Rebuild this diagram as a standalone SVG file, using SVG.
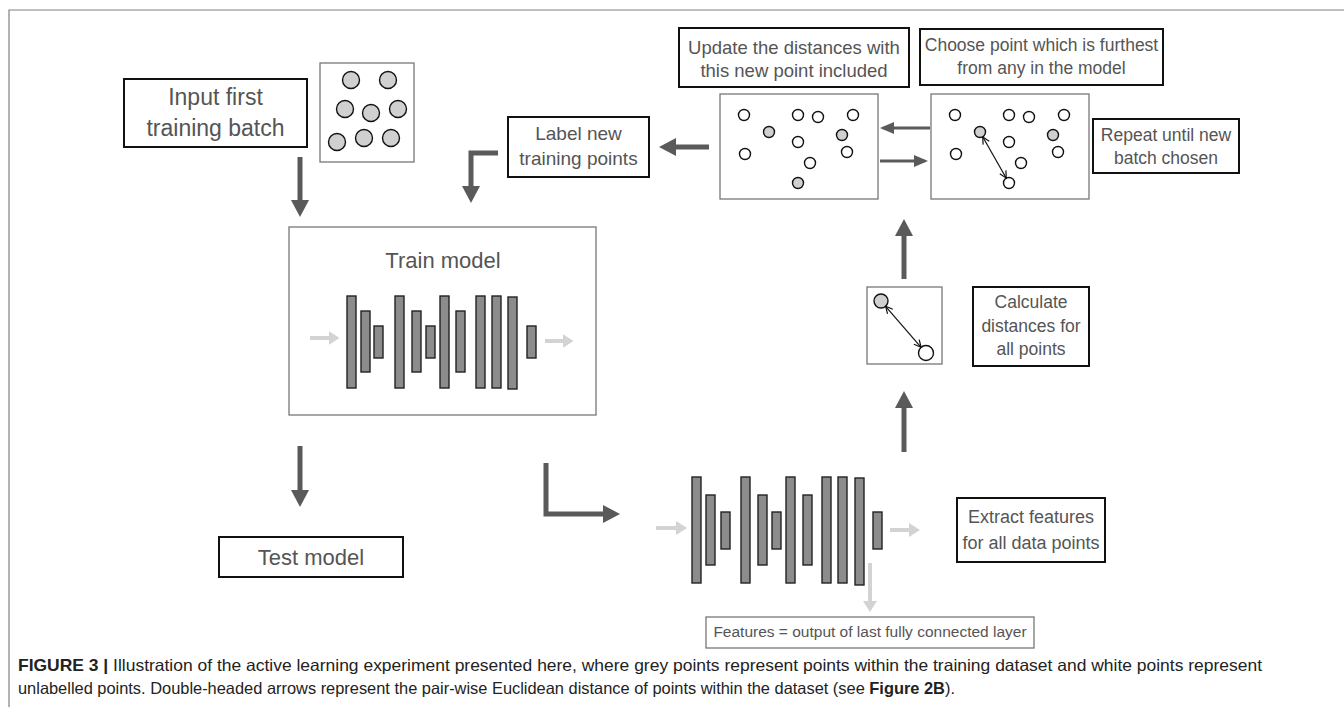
<svg xmlns="http://www.w3.org/2000/svg" width="1344" height="707" viewBox="0 0 1344 707">
<style>
.lbl{font-family:"Liberation Sans",Arial,sans-serif;fill:#555;text-anchor:middle}
.tb{fill:#fff;stroke:#111;stroke-width:2}
.pb{fill:#fff;stroke:#777;stroke-width:1.3}
.bar{fill:#8c8c8c;stroke:#222;stroke-width:1.4}
.dg{fill:#d0d0d0;stroke:#111;stroke-width:1.4}
.dw{fill:#fff;stroke:#111;stroke-width:1.4}
.arr{fill:none;stroke:#5a5a5a;stroke-width:5}
.arrs{fill:none;stroke:#5a5a5a;stroke-width:3}
.arrl{fill:none;stroke:#d3d3d3;stroke-width:4}
.dbl{fill:none;stroke:#111;stroke-width:1.2}
.cap{font-family:"Liberation Sans",Arial,sans-serif;font-size:16.5px;fill:#222}
</style>
<defs>
<marker id="ah" markerUnits="userSpaceOnUse" markerWidth="17" markerHeight="18" viewBox="0 0 17 18" refX="12" refY="9" orient="auto"><path d="M0,0 L17,9 L0,18 z" fill="#5a5a5a"/></marker>
<marker id="ahs" markerUnits="userSpaceOnUse" markerWidth="14" markerHeight="12" viewBox="0 0 14 12" refX="10.5" refY="6" orient="auto"><path d="M0,0 L14,6 L0,12 z" fill="#5a5a5a"/></marker>
<marker id="ahl" markerUnits="userSpaceOnUse" markerWidth="11" markerHeight="14" viewBox="0 0 11 14" refX="8" refY="7" orient="auto"><path d="M0,0 L11,7 L0,14 z" fill="#d3d3d3"/></marker>
<marker id="v" markerUnits="userSpaceOnUse" markerWidth="9" markerHeight="9" viewBox="0 0 9 9" refX="8" refY="4.5" orient="auto-start-reverse"><path d="M1,1 L8,4.5 L1,8" fill="none" stroke="#111" stroke-width="1.2"/></marker>
</defs>

<g id="frame"><path d="M9,707 V10 H1344" fill="none" stroke="#808080" stroke-width="1.2"/></g>

<g id="input-box">
<rect class="tb" x="124" y="79" width="183" height="68"/>
<text class="lbl" font-size="23" x="215.5" y="105">Input first</text>
<text class="lbl" font-size="23" x="215.5" y="136">training batch</text>
</g>

<g id="input-dots">
<rect class="pb" x="320" y="63" width="94" height="99"/>
<circle class="dg" cx="351" cy="80" r="8.5"/><circle class="dg" cx="388" cy="80" r="8.5"/>
<circle class="dg" cx="345" cy="109" r="8.5"/><circle class="dg" cx="371" cy="113" r="8.5"/><circle class="dg" cx="398" cy="109" r="8.5"/>
<circle class="dg" cx="337" cy="142" r="8.5"/><circle class="dg" cx="364" cy="138" r="8.5"/><circle class="dg" cx="391" cy="138" r="8.5"/>
</g>

<g id="train-model">
<rect class="pb" x="289" y="227" width="307" height="188"/>
<text class="lbl" font-size="22" x="443" y="268">Train model</text>
<rect class="bar" x="347" y="296" width="9" height="92"/>
<rect class="bar" x="361" y="311" width="9" height="61"/>
<rect class="bar" x="374" y="326" width="9" height="32"/>
<rect class="bar" x="395" y="296" width="9" height="92"/>
<rect class="bar" x="412" y="311" width="9" height="61"/>
<rect class="bar" x="426" y="326" width="9" height="32"/>
<rect class="bar" x="440" y="296" width="9" height="92"/>
<rect class="bar" x="456" y="311" width="9" height="61"/>
<rect class="bar" x="476" y="296" width="9" height="92"/>
<rect class="bar" x="492" y="296" width="9" height="92"/>
<rect class="bar" x="508" y="297" width="9" height="92"/>
<rect class="bar" x="527" y="326" width="9" height="32"/>
<line class="arrl" x1="310" y1="338" x2="336.5" y2="338" marker-end="url(#ahl)"/>
<line class="arrl" x1="545" y1="341" x2="570.5" y2="341" marker-end="url(#ahl)"/>
</g>

<g id="test-model">
<rect class="tb" x="219" y="537" width="184" height="40"/>
<text class="lbl" font-size="22" x="311" y="565">Test model</text>
</g>

<g id="label-box">
<rect class="tb" x="508" y="117" width="141" height="60"/>
<text class="lbl" font-size="19" x="578.5" y="140">Label new</text>
<text class="lbl" font-size="19" x="578.5" y="165">training points</text>
</g>

<g id="update-box">
<rect class="tb" x="679" y="28" width="230" height="59"/>
<text class="lbl" font-size="18.5" x="794" y="54">Update the distances with</text>
<text class="lbl" font-size="18.5" x="794" y="77">this new point included</text>
</g>

<g id="choose-box">
<rect class="tb" x="920" y="29" width="243" height="56"/>
<text class="lbl" font-size="17.5" x="1041.5" y="51">Choose point which is furthest</text>
<text class="lbl" font-size="17.5" x="1041.5" y="74">from any in the model</text>
</g>

<g id="repeat-box">
<rect class="tb" x="1093" y="119" width="146" height="54"/>
<text class="lbl" font-size="17.5" x="1166" y="141">Repeat until new</text>
<text class="lbl" font-size="17.5" x="1166" y="164">batch chosen</text>
</g>

<g id="dots-update">
<rect class="pb" x="720" y="94" width="158" height="105"/>
<circle class="dw" cx="744" cy="115" r="5.5"/><circle class="dw" cx="798" cy="115" r="5.5"/><circle class="dw" cx="818" cy="117" r="5.5"/><circle class="dw" cx="853" cy="115" r="5.5"/>
<circle class="dg" cx="769" cy="132" r="5.5"/><circle class="dw" cx="798" cy="142" r="5.5"/><circle class="dg" cx="842" cy="135" r="5.5"/>
<circle class="dw" cx="745" cy="154" r="5.5"/><circle class="dw" cx="847" cy="152" r="5.5"/><circle class="dw" cx="810" cy="163" r="5.5"/>
<circle class="dg" cx="798" cy="183" r="5.5"/>
</g>

<g id="dots-choose">
<rect class="pb" x="931" y="94" width="158" height="105"/>
<circle class="dw" cx="955" cy="115" r="5.5"/><circle class="dw" cx="1009" cy="115" r="5.5"/><circle class="dw" cx="1029" cy="117" r="5.5"/><circle class="dw" cx="1064" cy="115" r="5.5"/>
<circle class="dg" cx="980" cy="132" r="5.5"/><circle class="dw" cx="1009" cy="142" r="5.5"/><circle class="dg" cx="1053" cy="135" r="5.5"/>
<circle class="dw" cx="956" cy="154" r="5.5"/><circle class="dw" cx="1058" cy="152" r="5.5"/><circle class="dw" cx="1021" cy="163" r="5.5"/>
<circle class="dw" cx="1009" cy="183" r="5.5"/>
<line class="dbl" x1="982.7" y1="136.8" x2="1006.3" y2="178.2" marker-start="url(#v)" marker-end="url(#v)"/>
</g>

<g id="distance-box">
<rect class="pb" x="867" y="287" width="75" height="77"/>
<circle class="dg" cx="881" cy="301" r="7"/>
<circle class="dw" cx="926" cy="353" r="7.5"/>
<line class="dbl" x1="885.6" y1="306.3" x2="921.1" y2="347.3" marker-start="url(#v)" marker-end="url(#v)"/>
</g>

<g id="calculate-box">
<rect class="tb" x="973" y="287" width="116" height="79"/>
<text class="lbl" font-size="17.5" x="1031" y="308">Calculate</text>
<text class="lbl" font-size="17.5" x="1031" y="332">distances for</text>
<text class="lbl" font-size="17.5" x="1031" y="355">all points</text>
</g>

<g id="feature-net">
<rect class="bar" x="692" y="477" width="9" height="106"/>
<rect class="bar" x="706" y="495" width="9" height="70"/>
<rect class="bar" x="721" y="512" width="9" height="37"/>
<rect class="bar" x="741" y="477" width="9" height="106"/>
<rect class="bar" x="758" y="495" width="9" height="70"/>
<rect class="bar" x="772" y="512" width="9" height="37"/>
<rect class="bar" x="786" y="477" width="9" height="106"/>
<rect class="bar" x="803" y="495" width="9" height="70"/>
<rect class="bar" x="822" y="477" width="9" height="106"/>
<rect class="bar" x="838" y="477" width="9" height="106"/>
<rect class="bar" x="855" y="478" width="9" height="107"/>
<rect class="bar" x="873" y="512" width="9" height="37"/>
<line class="arrl" x1="656" y1="528" x2="684" y2="528" marker-end="url(#ahl)"/>
<line class="arrl" x1="890" y1="530" x2="917" y2="530" marker-end="url(#ahl)"/>
<line class="arrl" x1="870" y1="563" x2="870" y2="609" marker-end="url(#ahl)"/>
</g>

<g id="extract-box">
<rect class="tb" x="957" y="498" width="148" height="64"/>
<text class="lbl" font-size="18" x="1031" y="523">Extract features</text>
<text class="lbl" font-size="18" x="1031" y="549">for all data points</text>
</g>

<g id="features-note">
<rect class="pb" x="706" y="617" width="328" height="31"/>
<text class="lbl" font-size="15.5" x="870" y="637">Features = output of last fully connected layer</text>
</g>

<g id="connectors">
<line class="arr" x1="300" y1="157" x2="300" y2="212" marker-end="url(#ah)"/>
<line class="arr" x1="300" y1="446" x2="300" y2="502" marker-end="url(#ah)"/>
<line class="arr" x1="709" y1="147" x2="664" y2="147" marker-end="url(#ah)"/>
<polyline class="arr" points="498,153 471,153 471,198" marker-end="url(#ah)"/>
<line class="arrs" x1="930" y1="128" x2="883.5" y2="128" marker-end="url(#ahs)"/>
<line class="arrs" x1="880" y1="161" x2="924.5" y2="161" marker-end="url(#ahs)"/>
<line class="arr" x1="904" y1="279" x2="904" y2="224" marker-end="url(#ah)"/>
<line class="arr" x1="904" y1="452" x2="904" y2="396" marker-end="url(#ah)"/>
<polyline class="arr" points="546,463 546,514 615,514" marker-end="url(#ah)"/>
</g>

<g id="caption">
<text class="cap" x="18" y="671" textLength="1244" lengthAdjust="spacingAndGlyphs"><tspan font-weight="bold">FIGURE 3 |</tspan> Illustration of the active learning experiment presented here, where grey points represent points within the training dataset and white points represent</text>
<text class="cap" x="18" y="694" textLength="937" lengthAdjust="spacingAndGlyphs">unlabelled points. Double-headed arrows represent the pair-wise Euclidean distance of points within the dataset (see <tspan font-weight="bold">Figure 2B</tspan>).</text>
</g>
</svg>
